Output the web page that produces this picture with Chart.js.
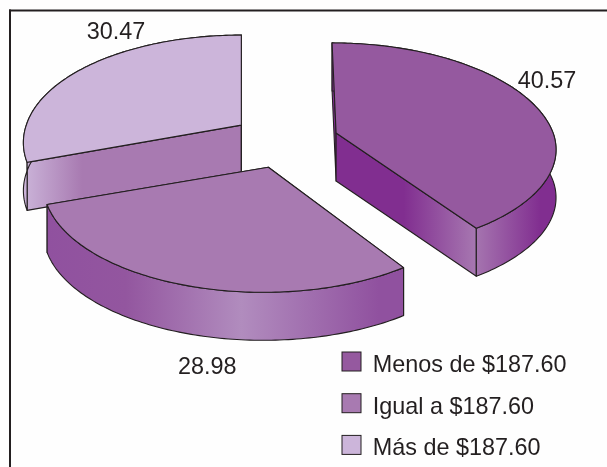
<!DOCTYPE html>
<html>
<head>
<meta charset="utf-8">
<style>html,body{margin:0;padding:0;background:#fff}canvas{display:block}</style>
<script src="https://cdn.jsdelivr.net/npm/chart.js@4"></script>
</head>
<body>
<canvas id="c" width="607" height="467" style="width:607px;height:467px"></canvas>
<script>
const categories = ['Menos de $187.60', 'Igual a $187.60', 'Más de $187.60'];
const values = [40.57, 28.98, 30.47];
const topColors = ['#95599F', '#A87AB1', '#CCB5DA'];

// styling of the extruded, perspective pie
const INK = '#231F20';
const FONT_SIZE = 23.4;
const FAMILY = '"Liberation Sans", Arial, sans-serif';
const sideStops = [
  [[0, '#812E90'], [0.32, '#812E90'], [0.636, '#A676B0'], [0.93, '#812E90'], [1, '#812E90']],
  [[0, '#90519F'], [0.22, '#93569F'], [0.545, '#B18CBE'], [0.93, '#90519F'], [1, '#90519F']],
  [[0, '#CBB4D9'], [0.27, '#A87AB1'], [1, '#A87AB1']]
];
const labelNudge = [[14, -22], [24, 83], [36, -37]];
const rimLean = [-4, 0, -2];
const rimShift = [0, -5, 2];
const frontScale = [0.95, 1, 1];
const DEPTH = 48, PERSP = 0.163, RX = 217, RY = 104.7, OFFSET_Y = 1.07;
const LEGEND_PAD = 18.3, SWATCH = 19, SWATCH_LIFT = 4;

function slicePoint(el, i, angle, r) {
  // angle in chart.js radians; the element supplies centre, radius and offset
  const ux = Math.cos(angle) * r, uy = Math.sin(angle) * r;
  const w = 1 - PERSP * uy;
  const mid = (el.startAngle + el.endAngle) / 2;
  const o = el.options.offset / el.outerRadius;
  const ax = el.x + Math.cos(mid) * o * RX;
  const ay = el.y + Math.sin(mid) * o * RY * OFFSET_Y;
  return {
    x: ax + RX * ux / w + rimShift[i] * r + (uy < 0 ? rimLean[i] * -uy : 0),
    y: ay + RY * uy / w * (uy > 0 ? frontScale[i] : 1)
  };
}
function poly(ctx, pts) {
  ctx.beginPath();
  pts.forEach((p, k) => k ? ctx.lineTo(p.x, p.y) : ctx.moveTo(p.x, p.y));
  ctx.closePath();
}
const down = p => ({x: p.x, y: p.y + DEPTH});

const pie3d = {
  id: 'pie3d',
  beforeDraw(chart) {
    const ctx = chart.ctx;
    ctx.save();
    ctx.fillStyle = '#FEFEFE';
    ctx.fillRect(0, 0, chart.width, chart.height);
    ctx.fillStyle = INK;
    ctx.fillRect(9, 9.5, chart.width - 9, 2);
    ctx.fillRect(9, 9.5, 2, chart.height - 9.5);
    ctx.restore();
  },
  afterLayout(chart) {
    const l = chart.legend;
    l.left = 323.7; l.right = 607; l.top = 335.5; l.bottom = 600;
  },
  beforeDatasetDraw(chart) {
    const ctx = chart.ctx;
    const arcs = chart.getDatasetMeta(0).data;
    ctx.save();
    ctx.lineJoin = 'round';
    ctx.strokeStyle = INK;
    ctx.lineWidth = 1.1;
    [2, 0, 1].forEach(i => {
      const el = arcs[i];
      const n = Math.ceil((el.endAngle - el.startAngle) * 60);
      const rim = [];
      for (let k = 0; k <= n; k++) {
        rim.push(slicePoint(el, i, el.startAngle + (el.endAngle - el.startAngle) * k / n, 1));
      }
      const apex = slicePoint(el, i, 0, 0);
      const xs = rim.map(p => p.x).concat(apex.x);
      const g = ctx.createLinearGradient(Math.min(...xs), 0, Math.max(...xs), 0);
      sideStops[i].forEach(s => g.addColorStop(s[0], s[1]));
      ctx.fillStyle = g;
      // radial side walls
      [rim[0], rim[n]].forEach(p => {
        poly(ctx, [apex, p, down(p), down(apex)]);
        ctx.fill(); ctx.stroke();
      });
      // curved outer wall
      poly(ctx, rim.concat(rim.map(down).reverse()));
      ctx.fill(); ctx.stroke();
      // top face
      poly(ctx, [apex].concat(rim));
      ctx.fillStyle = topColors[i];
      ctx.fill(); ctx.stroke();
    });
    // value labels
    ctx.fillStyle = INK;
    ctx.font = FONT_SIZE + 'px ' + FAMILY;
    ctx.textAlign = 'center';
    ctx.textBaseline = 'middle';
    values.forEach((v, i) => {
      const el = arcs[i];
      const p = slicePoint(el, i, (el.startAngle + el.endAngle) / 2, 1);
      ctx.fillText(v.toFixed(2), p.x + labelNudge[i][0], p.y + labelNudge[i][1]);
    });
    ctx.restore();
    return false;
  },
  afterDraw(chart) {
    // legend swatches sit a little higher than the centre of their text
    const ctx = chart.ctx, l = chart.legend;
    ctx.save();
    ctx.strokeStyle = INK;
    ctx.lineWidth = 1;
    l.legendItems.forEach((item, i) => {
      const x = l.left + LEGEND_PAD;
      const y = l.top + LEGEND_PAD + i * (FONT_SIZE + LEGEND_PAD) + (FONT_SIZE - SWATCH) / 2 - SWATCH_LIFT;
      ctx.fillStyle = topColors[item.index];
      ctx.fillRect(x, y, SWATCH, SWATCH);
      ctx.strokeRect(x, y, SWATCH, SWATCH);
    });
    ctx.restore();
  }
};

new Chart(document.getElementById('c'), {
  type: 'pie',
  data: {
    labels: categories,
    datasets: [{
      data: values,
      backgroundColor: topColors,
      borderColor: INK,
      borderWidth: 1,
      offset: 30.8
    }]
  },
  options: {
    responsive: false,
    animation: false,
    layout: {padding: {left: 0, top: 0, right: 37, bottom: 185}},
    plugins: {
      tooltip: {enabled: false},
      legend: {
        position: 'chartArea',
        align: 'start',
        labels: {
          boxWidth: SWATCH,
          boxHeight: SWATCH,
          padding: LEGEND_PAD,
          color: INK,
          font: {family: FAMILY, size: FONT_SIZE},
          generateLabels: () => categories.map((text, index) => ({
            text, index,
            fillStyle: 'rgba(0,0,0,0)',
            strokeStyle: 'rgba(0,0,0,0)',
            lineWidth: 0,
            fontColor: INK,
            hidden: false
          }))
        }
      }
    }
  },
  plugins: [pie3d]
});
</script>
</body>
</html>
